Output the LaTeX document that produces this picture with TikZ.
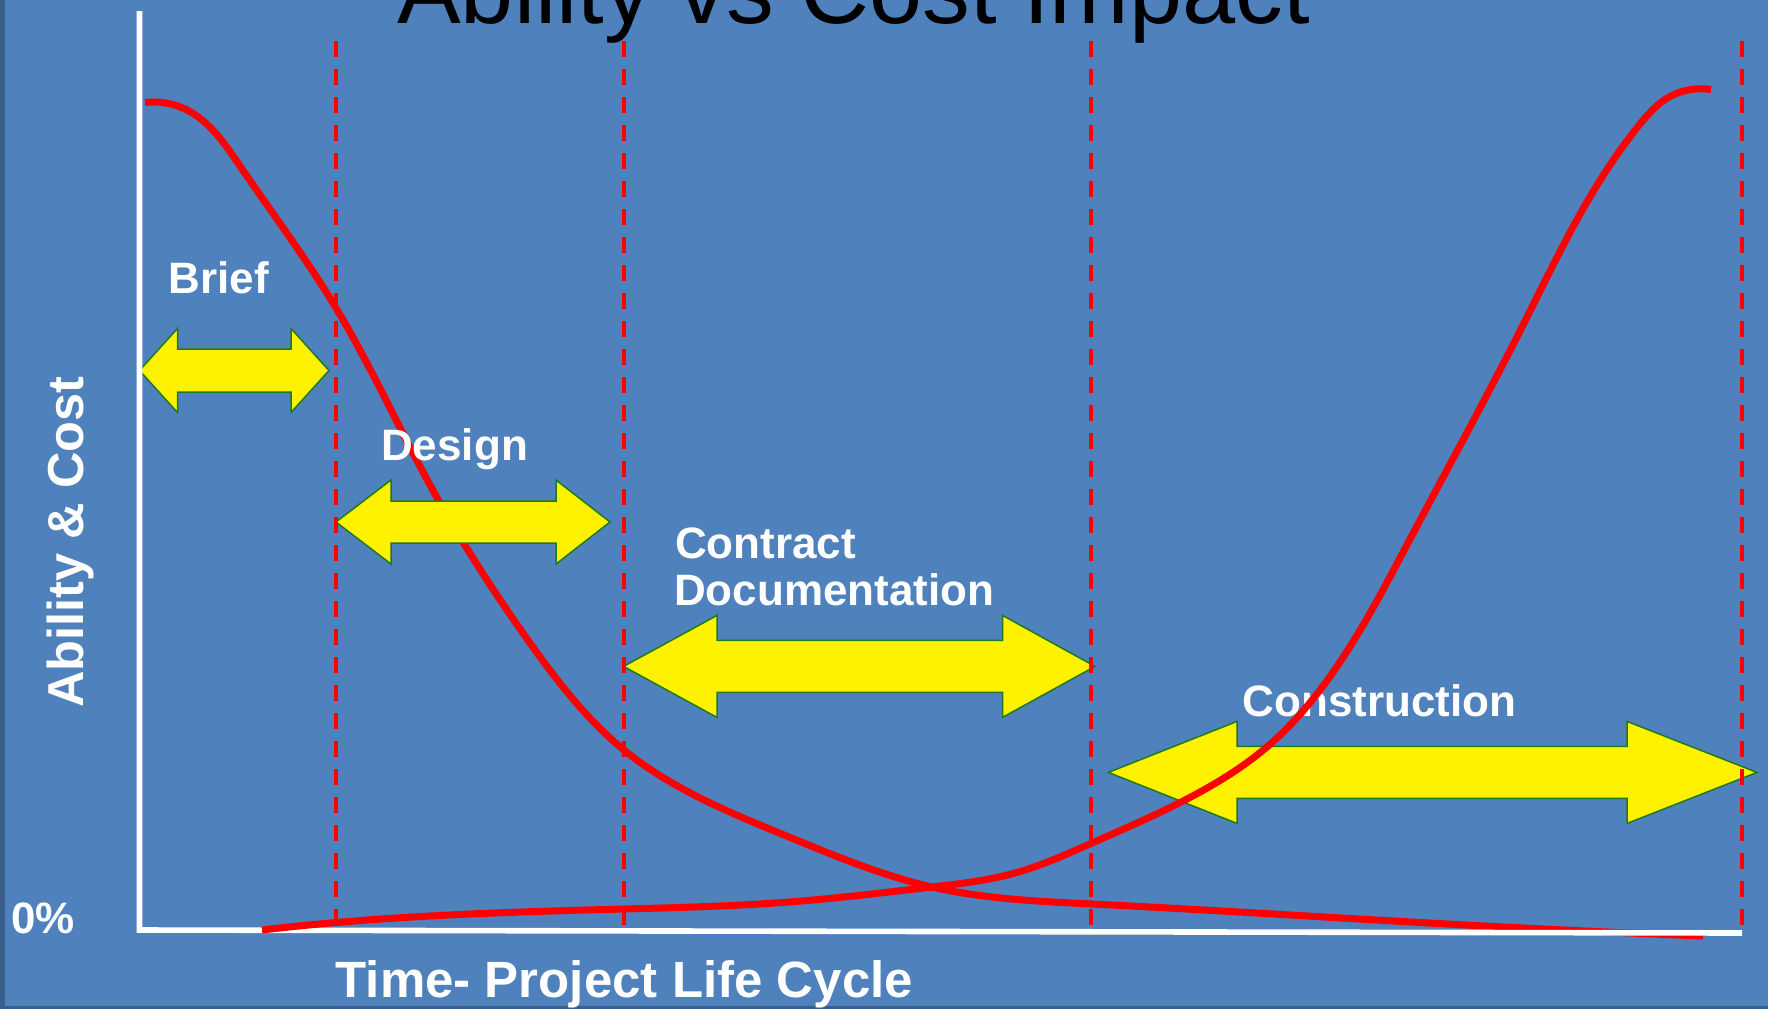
\documentclass[tikz,border=0pt]{standalone}
\usepackage{fontspec}
\setmainfont{Liberation Sans}
\usetikzlibrary{hobby}
\definecolor{bgblue}{HTML}{4F81BD}
\definecolor{bordblue}{HTML}{3A5F8C}
\definecolor{arrowgreen}{HTML}{1E7A1E}
\newcommand\DArrow[8]{%
  \path[dblarrow] (#2,#4) -- (#5,{#4-#8}) -- (#5,{#4-#7}) -- (#6,{#4-#7}) -- (#6,{#4-#8})
    -- (#3,#4) -- (#6,{#4+#8}) -- (#6,{#4+#7}) -- (#5,{#4+#7}) -- (#5,{#4+#8}) -- cycle;
  \coordinate (#1) at ({(#2+#3)/2},#4);}
\begin{document}
\begin{tikzpicture}[x=1pt,y=-1pt,
  dblarrow/.style={fill=yellow,draw=arrowgreen,line width=1.5pt,line join=miter},
  redcurve/.style={draw=red,line width=7pt},
  phaseline/.style={draw=red,line width=4pt,dash pattern=on 16pt off 12pt},
  axisline/.style={draw=white,line width=5.6pt,line join=miter},
  lbl/.style={text=white,font=\fontsize{44}{48}\selectfont\bfseries,anchor=base west,inner sep=0pt},
  biglbl/.style={text=white,font=\fontsize{51}{55}\selectfont\bfseries,anchor=base west,inner sep=0pt}]
\useasboundingbox (0,0) rectangle (1768,1009);
\fill[bgblue] (0,0) rectangle (1768,1009);
\fill[bordblue] (0,0) rectangle (5.3,1009);
\fill[bordblue] (0,1005.5) rectangle (1768,1009);
% title
\node[anchor=base west,inner sep=0pt,text=black,font=\fontsize{95.5}{100}\selectfont] (title) at (397,23.5) {Ability vs Cost Impact};
% ability curve
\draw[redcurve,use Hobby shortcut] (145,102.5) .. (185,109) .. (240,166) .. (336,308) .. (430,485) .. (530,643) .. (624,750) .. (789,837) .. (932,887) .. (1092,904) .. (1466,925) .. (1703,936);
% Brief and Design arrows
\DArrow{briefarrow}{139.5}{329}{370.5}{177.5}{291}{21.5}{42}
\DArrow{designarrow}{336}{610}{522}{391}{556}{21}{42}
\node[lbl] (brief) at (168.5,293.3) {Brief};
\node[lbl] (design) at (381,460.7) {Design};
% axes
\coordinate (ytop) at (139.5,11);
\coordinate (origin) at (139.5,930);
\coordinate (xend) at (1742,933);
\draw[axisline] (ytop) -- (origin) -- (xend);
% contract and construction arrows
\DArrow{contractarrow}{623.6}{1095}{666.4}{717}{1002.5}{26}{51}
\DArrow{constructionarrow}{1108.4}{1757}{772.4}{1237}{1627}{26}{51}
\node[lbl] (contract1) at (675,558.3) {Contract};
\node[lbl] (contract2) at (674,605.7) {Documentation};
\node[lbl] (construction) at (1242.5,716.7) {Construction};
% phase separators
\foreach \x/\n in {336/a,623.5/b,1091/c,1742/d}{
  \coordinate (top\n) at (\x,41);
  \coordinate (bot\n) at (\x,925);
  \draw[phaseline] (top\n) -- (bot\n);
}
% cost curve
\draw[redcurve,use Hobby shortcut] (262,930) .. (336,922.5) .. (624,909) .. (789,902) .. (932,887) .. (1015,873) .. (1092,843) .. (1185,800) .. (1268,746) .. (1326,682) .. (1409,541) .. (1522,327) .. (1640,124) .. (1669,97) .. (1691,89.5) .. (1711,89.5);
% axis labels
\node[biglbl,font=\fontsize{50.5}{55}\selectfont\bfseries,rotate=90] (ylabel) at (83.5,708) {Ability \& Cost};
\node[anchor=base west,inner sep=0pt,text=white,font=\fontsize{44}{48}\selectfont\bfseries] (zero) at (11,933.3) {0\%};
\node[biglbl] (xlabel) at (335.5,997) {Time- Project Life Cycle};
\end{tikzpicture}
\end{document}
